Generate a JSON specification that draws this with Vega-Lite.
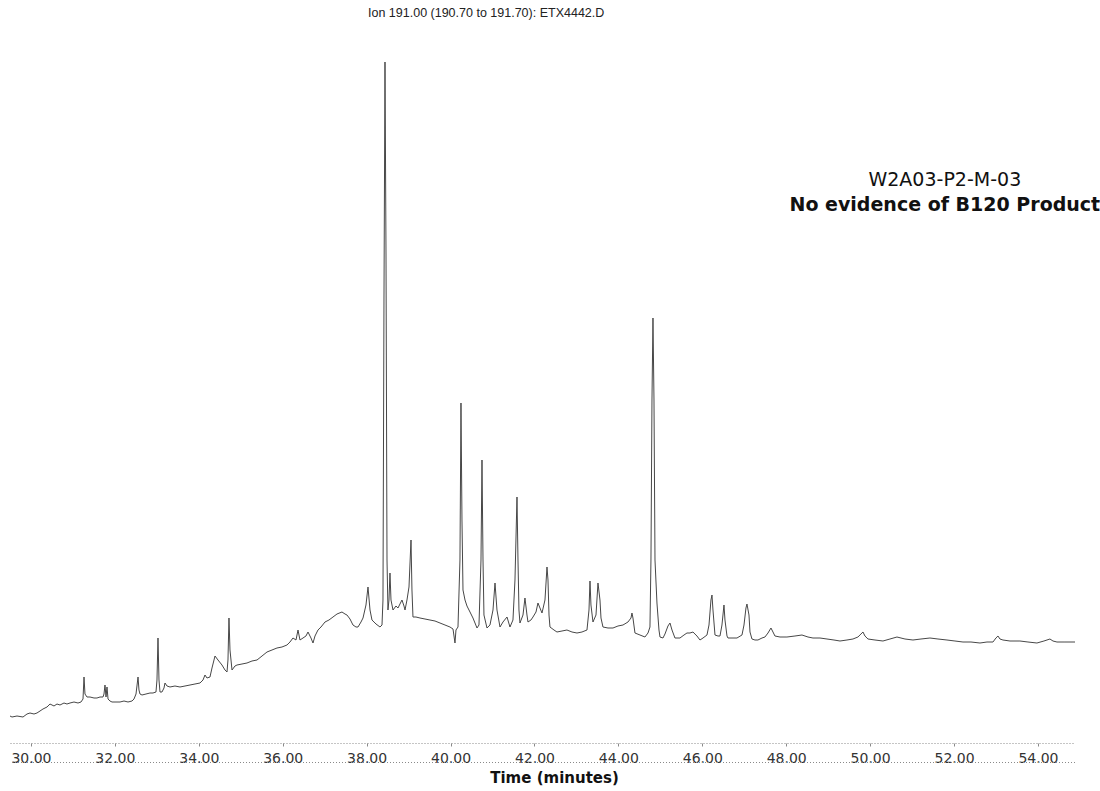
{
  "$schema": "https://vega.github.io/schema/vega-lite/v6.json",
  "autosize": {"type": "none"},
  "width": 1065,
  "height": 700,
  "padding": {"left": 10, "top": 43, "right": 25, "bottom": 48},
  "background": "white",
  "title": {
    "text": "Ion 191.00 (190.70 to 191.70): ETX4442.D",
    "anchor": "start",
    "dx": 360,
    "offset": 24,
    "font": "Liberation Sans",
    "fontSize": 12.5,
    "fontWeight": "normal",
    "color": "#222"
  },
  "config": {"view": {"stroke": null}},
  "datasets": {
    "trace": [
      {"t":29.500,"a":2700},{"t":29.548,"a":2600},{"t":29.667,"a":2700},{"t":29.810,"a":2600},{"t":29.905,"a":2900},
      {"t":29.977,"a":3000},{"t":30.072,"a":2900},{"t":30.143,"a":3000},{"t":30.215,"a":3200},{"t":30.286,"a":3400},
      {"t":30.382,"a":3600},{"t":30.453,"a":3900},{"t":30.549,"a":3700},{"t":30.620,"a":3900},{"t":30.692,"a":3800},
      {"t":30.787,"a":4000},{"t":30.858,"a":3900},{"t":30.930,"a":4000},{"t":31.025,"a":4100},{"t":31.121,"a":4000},
      {"t":31.192,"a":4100},{"t":31.240,"a":4400},{"t":31.264,"a":6600},{"t":31.287,"a":4900},{"t":31.335,"a":4600},
      {"t":31.407,"a":4600},{"t":31.502,"a":4500},{"t":31.573,"a":4500},{"t":31.645,"a":4600},{"t":31.716,"a":4600},
      {"t":31.740,"a":4900},{"t":31.764,"a":5800},{"t":31.788,"a":4600},{"t":31.812,"a":5600},{"t":31.836,"a":4400},
      {"t":31.883,"a":4200},{"t":31.931,"a":4100},{"t":32.026,"a":4100},{"t":32.122,"a":4100},{"t":32.217,"a":4200},
      {"t":32.312,"a":4100},{"t":32.408,"a":4200},{"t":32.455,"a":4400},{"t":32.503,"a":4900},{"t":32.551,"a":6600},
      {"t":32.574,"a":5300},{"t":32.598,"a":4900},{"t":32.646,"a":4800},{"t":32.741,"a":4900},{"t":32.836,"a":5000},
      {"t":32.908,"a":5000},{"t":32.979,"a":5100},{"t":33.003,"a":6300},{"t":33.027,"a":10500},{"t":33.051,"a":6300},
      {"t":33.075,"a":5100},{"t":33.122,"a":5100},{"t":33.170,"a":5500},{"t":33.194,"a":6000},{"t":33.242,"a":5700},
      {"t":33.313,"a":5600},{"t":33.432,"a":5700},{"t":33.551,"a":5600},{"t":33.671,"a":5700},{"t":33.790,"a":5800},
      {"t":33.909,"a":5900},{"t":34.028,"a":6000},{"t":34.100,"a":6300},{"t":34.147,"a":6800},{"t":34.195,"a":6500},
      {"t":34.266,"a":6600},{"t":34.314,"a":7500},{"t":34.386,"a":8700},{"t":34.457,"a":8300},{"t":34.552,"a":7800},
      {"t":34.624,"a":7300},{"t":34.672,"a":7100},{"t":34.695,"a":8300},{"t":34.719,"a":12500},{"t":34.743,"a":9300},
      {"t":34.791,"a":7300},{"t":34.862,"a":7700},{"t":34.910,"a":7800},{"t":35.029,"a":7900},{"t":35.148,"a":8000},
      {"t":35.267,"a":8200},{"t":35.387,"a":8300},{"t":35.506,"a":8700},{"t":35.625,"a":9100},{"t":35.744,"a":9300},
      {"t":35.863,"a":9500},{"t":35.982,"a":9600},{"t":36.101,"a":9800},{"t":36.173,"a":10100},{"t":36.244,"a":10500},
      {"t":36.316,"a":10300},{"t":36.364,"a":11300},{"t":36.411,"a":10300},{"t":36.483,"a":10500},{"t":36.554,"a":10700},
      {"t":36.602,"a":11100},{"t":36.673,"a":10500},{"t":36.721,"a":10000},{"t":36.769,"a":10700},{"t":36.840,"a":11300},
      {"t":36.912,"a":11600},{"t":37.007,"a":12100},{"t":37.102,"a":12300},{"t":37.198,"a":12600},{"t":37.293,"a":12900},
      {"t":37.412,"a":13100},{"t":37.484,"a":12900},{"t":37.531,"a":12800},{"t":37.603,"a":12400},{"t":37.674,"a":11800},
      {"t":37.746,"a":11600},{"t":37.794,"a":11600},{"t":37.865,"a":12100},{"t":37.913,"a":12500},{"t":37.984,"a":13800},
      {"t":38.032,"a":15600},{"t":38.080,"a":13300},{"t":38.127,"a":12300},{"t":38.223,"a":11900},{"t":38.318,"a":11600},
      {"t":38.366,"a":11800},{"t":38.389,"a":14300},{"t":38.413,"a":44300},{"t":38.437,"a":68100},{"t":38.461,"a":49300},
      {"t":38.485,"a":18300},{"t":38.508,"a":13300},{"t":38.532,"a":14300},{"t":38.556,"a":17000},{"t":38.580,"a":14300},
      {"t":38.628,"a":13300},{"t":38.699,"a":13700},{"t":38.747,"a":13500},{"t":38.794,"a":13900},{"t":38.842,"a":14300},
      {"t":38.890,"a":13700},{"t":38.914,"a":13300},{"t":38.961,"a":14300},{"t":39.009,"a":15600},{"t":39.057,"a":20300},
      {"t":39.080,"a":15300},{"t":39.104,"a":12600},{"t":39.176,"a":12600},{"t":39.271,"a":12500},{"t":39.390,"a":12400},
      {"t":39.509,"a":12300},{"t":39.629,"a":12200},{"t":39.748,"a":12000},{"t":39.867,"a":11800},{"t":39.986,"a":11600},
      {"t":40.058,"a":11400},{"t":40.105,"a":10000},{"t":40.129,"a":11300},{"t":40.177,"a":11600},{"t":40.224,"a":18300},
      {"t":40.248,"a":34000},{"t":40.272,"a":22300},{"t":40.296,"a":15300},{"t":40.344,"a":14300},{"t":40.391,"a":13700},
      {"t":40.463,"a":13100},{"t":40.534,"a":12500},{"t":40.630,"a":11500},{"t":40.677,"a":11800},{"t":40.725,"a":18300},
      {"t":40.749,"a":28300},{"t":40.773,"a":18300},{"t":40.796,"a":12800},{"t":40.868,"a":11500},{"t":40.939,"a":11800},
      {"t":41.011,"a":13300},{"t":41.059,"a":16000},{"t":41.106,"a":13300},{"t":41.178,"a":11600},{"t":41.249,"a":12100},
      {"t":41.345,"a":12600},{"t":41.416,"a":11600},{"t":41.487,"a":12300},{"t":41.535,"a":16300},{"t":41.583,"a":24600},
      {"t":41.607,"a":18300},{"t":41.630,"a":13300},{"t":41.654,"a":12000},{"t":41.726,"a":12800},{"t":41.773,"a":14500},
      {"t":41.821,"a":12800},{"t":41.845,"a":12100},{"t":41.916,"a":12300},{"t":41.964,"a":12600},{"t":42.036,"a":13100},
      {"t":42.083,"a":14000},{"t":42.131,"a":13500},{"t":42.179,"a":13000},{"t":42.250,"a":14300},{"t":42.298,"a":17600},
      {"t":42.322,"a":16300},{"t":42.346,"a":12800},{"t":42.369,"a":11600},{"t":42.465,"a":11300},{"t":42.536,"a":11100},
      {"t":42.655,"a":11200},{"t":42.774,"a":11300},{"t":42.894,"a":11100},{"t":43.013,"a":11000},{"t":43.132,"a":11100},
      {"t":43.251,"a":11300},{"t":43.299,"a":13300},{"t":43.323,"a":16200},{"t":43.346,"a":13800},{"t":43.394,"a":12100},
      {"t":43.466,"a":12800},{"t":43.513,"a":16000},{"t":43.561,"a":14300},{"t":43.585,"a":12500},{"t":43.632,"a":11600},
      {"t":43.752,"a":11500},{"t":43.871,"a":11500},{"t":43.990,"a":11700},{"t":44.109,"a":11800},{"t":44.228,"a":12100},
      {"t":44.300,"a":12500},{"t":44.323,"a":13000},{"t":44.347,"a":12500},{"t":44.395,"a":11000},{"t":44.514,"a":10800},
      {"t":44.633,"a":10600},{"t":44.705,"a":11000},{"t":44.752,"a":11600},{"t":44.776,"a":18300},{"t":44.800,"a":34300},
      {"t":44.824,"a":42500},{"t":44.848,"a":34300},{"t":44.872,"a":18300},{"t":44.919,"a":14000},{"t":44.967,"a":11300},
      {"t":44.991,"a":10600},{"t":45.062,"a":10500},{"t":45.110,"a":10900},{"t":45.181,"a":11700},{"t":45.229,"a":12000},
      {"t":45.277,"a":11300},{"t":45.348,"a":10500},{"t":45.467,"a":10500},{"t":45.563,"a":10800},{"t":45.634,"a":11000},
      {"t":45.706,"a":11000},{"t":45.777,"a":11100},{"t":45.872,"a":10700},{"t":45.944,"a":10300},{"t":46.016,"a":10500},
      {"t":46.111,"a":10800},{"t":46.159,"a":11800},{"t":46.206,"a":14300},{"t":46.230,"a":14800},{"t":46.254,"a":13300},
      {"t":46.302,"a":10800},{"t":46.373,"a":10700},{"t":46.421,"a":10700},{"t":46.468,"a":11800},{"t":46.516,"a":13800},
      {"t":46.540,"a":12300},{"t":46.588,"a":10700},{"t":46.611,"a":10500},{"t":46.707,"a":10500},{"t":46.826,"a":10500},
      {"t":46.945,"a":10800},{"t":46.993,"a":11800},{"t":47.040,"a":13500},{"t":47.064,"a":13900},{"t":47.112,"a":12800},
      {"t":47.136,"a":11100},{"t":47.183,"a":10400},{"t":47.255,"a":10300},{"t":47.326,"a":10300},{"t":47.422,"a":10500},
      {"t":47.493,"a":10600},{"t":47.565,"a":11000},{"t":47.636,"a":11500},{"t":47.684,"a":11100},{"t":47.731,"a":10700},
      {"t":47.851,"a":10600},{"t":48.017,"a":10600},{"t":48.208,"a":10700},{"t":48.375,"a":10800},{"t":48.518,"a":10600},
      {"t":48.637,"a":10500},{"t":48.804,"a":10500},{"t":48.971,"a":10400},{"t":49.138,"a":10300},{"t":49.281,"a":10200},
      {"t":49.447,"a":10300},{"t":49.590,"a":10400},{"t":49.709,"a":10600},{"t":49.781,"a":10900},{"t":49.829,"a":11100},
      {"t":49.876,"a":10700},{"t":49.948,"a":10400},{"t":50.115,"a":10300},{"t":50.305,"a":10200},{"t":50.472,"a":10400},
      {"t":50.639,"a":10600},{"t":50.830,"a":10400},{"t":51.020,"a":10300},{"t":51.211,"a":10400},{"t":51.425,"a":10500},
      {"t":51.616,"a":10400},{"t":51.831,"a":10300},{"t":52.021,"a":10200},{"t":52.212,"a":10100},{"t":52.403,"a":10100},
      {"t":52.617,"a":10000},{"t":52.784,"a":10100},{"t":52.927,"a":10100},{"t":52.998,"a":10500},{"t":53.046,"a":10700},
      {"t":53.094,"a":10400},{"t":53.165,"a":10300},{"t":53.332,"a":10200},{"t":53.570,"a":10200},{"t":53.761,"a":10100},
      {"t":53.975,"a":10000},{"t":54.142,"a":10200},{"t":54.285,"a":10400},{"t":54.357,"a":10200},{"t":54.452,"a":10100},
      {"t":54.643,"a":10100},{"t":54.834,"a":10100},{"t":54.882,"a":10100}
    ],
    "notes": [
      {"t": 51.78, "a": 56300, "label": "W2A03-P2-M-03", "weight": "normal"},
      {"t": 51.78, "a": 53800, "label": "No evidence of B120 Product", "weight": "bold"}
    ]
  },
  "layer": [
    {
      "data": {"name": "trace"},
      "mark": {"type": "line", "color": "#474747", "strokeWidth": 1, "interpolate": "linear"},
      "encoding": {
        "x": {
          "field": "t",
          "type": "quantitative",
          "scale": {"domain": [29.5, 54.882], "nice": false, "zero": false},
          "axis": {
            "values": [30, 32, 34, 36, 38, 40, 42, 44, 46, 48, 50, 52, 54],
            "format": ".2f",
            "grid": false,
            "domainColor": "#8a8a8a",
            "domainDash": [1, 2],
            "domainWidth": 1,
            "tickColor": "#8a8a8a",
            "tickSize": 3,
            "labelPadding": 5,
            "labelFont": "DejaVu Sans",
            "labelFontSize": 14,
            "labelColor": "#333",
            "title": "Time (minutes)",
            "titleFont": "DejaVu Sans",
            "titleFontSize": 15,
            "titleFontWeight": "bold",
            "titleColor": "#111",
            "titlePadding": 5,
            "titleX": 544,
            "titleAlign": "center"
          }
        },
        "y": {
          "field": "a",
          "type": "quantitative",
          "scale": {"domain": [0, 70000], "nice": false},
          "axis": null
        }
      }
    },
    {
      "data": {"values": [{}]},
      "mark": {"type": "rule", "color": "#8a8a8a", "strokeDash": [1, 2], "strokeWidth": 1},
      "encoding": {"y": {"datum": -1950, "type": "quantitative"}}
    },
    {
      "data": {"name": "notes"},
      "transform": [{"filter": "datum.weight === 'normal'"}],
      "mark": {"type": "text", "font": "DejaVu Sans", "fontSize": 19, "fontWeight": "normal", "align": "center", "baseline": "middle", "color": "#111"},
      "encoding": {
        "x": {"field": "t", "type": "quantitative"},
        "y": {"field": "a", "type": "quantitative"},
        "text": {"field": "label"}
      }
    },
    {
      "data": {"name": "notes"},
      "transform": [{"filter": "datum.weight === 'bold'"}],
      "mark": {"type": "text", "font": "DejaVu Sans", "fontSize": 19, "fontWeight": "bold", "align": "center", "baseline": "middle", "color": "#111"},
      "encoding": {
        "x": {"field": "t", "type": "quantitative"},
        "y": {"field": "a", "type": "quantitative"},
        "text": {"field": "label"}
      }
    }
  ]
}
